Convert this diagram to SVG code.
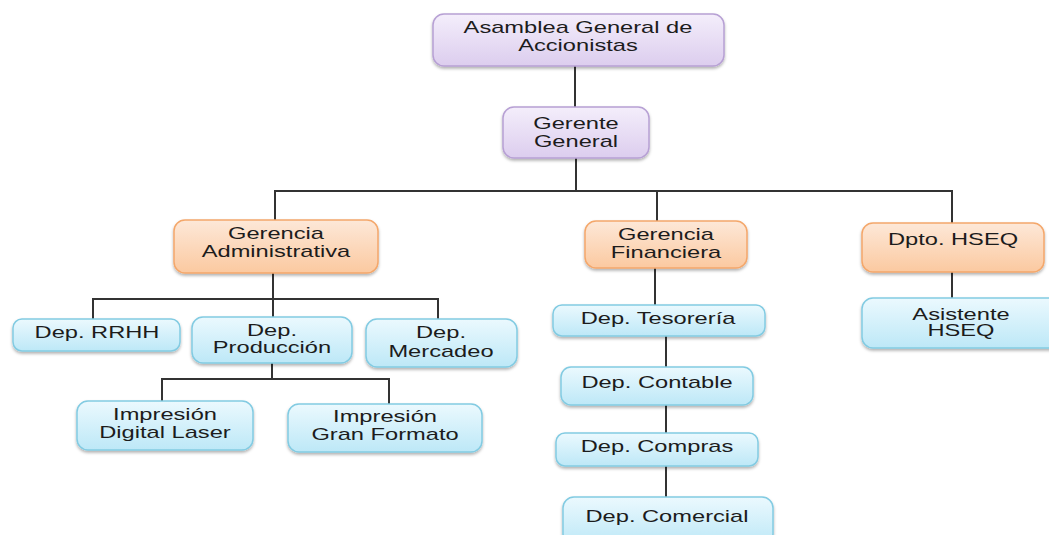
<svg xmlns="http://www.w3.org/2000/svg" width="1049" height="535" viewBox="0 0 1049 535">
  <defs>
    <linearGradient id="gPurple" x1="0" y1="0" x2="0" y2="1">
      <stop offset="0" stop-color="#f4eefb"/>
      <stop offset="1" stop-color="#dccdee"/>
    </linearGradient>
    <linearGradient id="gOrange" x1="0" y1="0" x2="0" y2="1">
      <stop offset="0" stop-color="#fde8d8"/>
      <stop offset="1" stop-color="#fbc9a0"/>
    </linearGradient>
    <linearGradient id="gBlue" x1="0" y1="0" x2="0" y2="1">
      <stop offset="0" stop-color="#ebf9fe"/>
      <stop offset="1" stop-color="#bde8f7"/>
    </linearGradient>
    <filter id="shadow" x="-10%" y="-20%" width="120%" height="160%">
      <feDropShadow dx="0" dy="2" stdDeviation="1.5" flood-color="#000" flood-opacity="0.3"/>
    </filter>
  </defs>
  <style>
    .box { stroke-width: 1.5; filter: url(#shadow); }
    .purple { fill: url(#gPurple); stroke: #b7a0d4; }
    .orange { fill: url(#gOrange); stroke: #f4a76b; }
    .blue { fill: url(#gBlue); stroke: #82cbe2; }
    .lbl { font-family: "Liberation Sans", Arial, sans-serif; font-size: 16px; fill: #1c1c1c; text-anchor: middle; }
    .wire { stroke: #333; stroke-width: 2; fill: none; }
  </style>
  <rect width="1049" height="535" fill="#fff"/>

  <g id="connectors">
    <path class="wire" d="M575 66V107"/>
    <path class="wire" d="M576 158V191"/>
    <path class="wire" d="M275 220V191H952V223"/>
    <path class="wire" d="M657 191V221"/>
    <path class="wire" d="M273 273V299"/>
    <path class="wire" d="M93 319V299H438V319"/>
    <path class="wire" d="M273 299V317"/>
    <path class="wire" d="M272 363V379"/>
    <path class="wire" d="M162 401V379H389V404"/>
    <path class="wire" d="M655 268V305"/>
    <path class="wire" d="M666 336V367"/>
    <path class="wire" d="M666 405V433"/>
    <path class="wire" d="M666 466V497"/>
    <path class="wire" d="M952 272V298"/>
  </g>

  <!-- text is widened horizontally with scale(1.48,1) -->
  <g id="asamblea">
    <rect class="box purple" x="433" y="14" width="291" height="52" rx="11"/>
    <text class="lbl" transform="translate(578,33) scale(1.48,1)"><tspan x="0">Asamblea General de</tspan><tspan x="0" dy="18">Accionistas</tspan></text>
  </g>
  <g id="gerente-general">
    <rect class="box purple" x="503" y="107" width="146" height="51" rx="11"/>
    <text class="lbl" transform="translate(576,129) scale(1.48,1)"><tspan x="0">Gerente</tspan><tspan x="0" dy="18">General</tspan></text>
  </g>

  <g id="gerencia-administrativa">
    <rect class="box orange" x="174" y="220" width="204" height="53" rx="11"/>
    <text class="lbl" transform="translate(276,239) scale(1.48,1)"><tspan x="0">Gerencia</tspan><tspan x="0" dy="18">Administrativa</tspan></text>
  </g>
  <g id="gerencia-financiera">
    <rect class="box orange" x="585" y="221" width="162" height="47" rx="11"/>
    <text class="lbl" transform="translate(666,240) scale(1.48,1)"><tspan x="0">Gerencia</tspan><tspan x="0" dy="18">Financiera</tspan></text>
  </g>
  <g id="dpto-hseq">
    <rect class="box orange" x="862" y="223" width="182" height="49" rx="11"/>
    <text class="lbl" transform="translate(953,245) scale(1.48,1)">Dpto. HSEQ</text>
  </g>
  <g id="asistente-hseq">
    <rect class="box blue" x="862" y="298" width="200" height="50" rx="11"/>
    <text class="lbl" transform="translate(961,320) scale(1.48,1)"><tspan x="0">Asistente</tspan><tspan x="0" dy="16">HSEQ</tspan></text>
  </g>

  <g id="dep-rrhh">
    <rect class="box blue" x="13" y="319" width="167" height="32" rx="9"/>
    <text class="lbl" transform="translate(97,338) scale(1.48,1)">Dep. RRHH</text>
  </g>
  <g id="dep-produccion">
    <rect class="box blue" x="192" y="317" width="160" height="46" rx="11"/>
    <text class="lbl" transform="translate(272,336) scale(1.48,1)"><tspan x="0">Dep.</tspan><tspan x="0" dy="17">Producción</tspan></text>
  </g>
  <g id="dep-mercadeo">
    <rect class="box blue" x="366" y="319" width="151" height="48" rx="11"/>
    <text class="lbl" transform="translate(441,338) scale(1.48,1)"><tspan x="0">Dep.</tspan><tspan x="0" dy="19">Mercadeo</tspan></text>
  </g>
  <g id="impresion-digital">
    <rect class="box blue" x="77" y="401" width="176" height="49" rx="11"/>
    <text class="lbl" transform="translate(165,420) scale(1.48,1)"><tspan x="0">Impresión</tspan><tspan x="0" dy="18">Digital Laser</tspan></text>
  </g>
  <g id="impresion-gran-formato">
    <rect class="box blue" x="288" y="404" width="194" height="48" rx="11"/>
    <text class="lbl" transform="translate(385,422) scale(1.48,1)"><tspan x="0">Impresión</tspan><tspan x="0" dy="18">Gran Formato</tspan></text>
  </g>

  <g id="dep-tesoreria">
    <rect class="box blue" x="553" y="305" width="212" height="31" rx="9"/>
    <text class="lbl" transform="translate(658,324) scale(1.48,1)">Dep. Tesorería</text>
  </g>
  <g id="dep-contable">
    <rect class="box blue" x="561" y="367" width="192" height="38" rx="10"/>
    <text class="lbl" transform="translate(657,388) scale(1.48,1)">Dep. Contable</text>
  </g>
  <g id="dep-compras">
    <rect class="box blue" x="556" y="433" width="202" height="33" rx="9"/>
    <text class="lbl" transform="translate(657,452) scale(1.48,1)">Dep. Compras</text>
  </g>
  <g id="dep-comercial">
    <rect class="box blue" x="563" y="497" width="210" height="48" rx="11"/>
    <text class="lbl" transform="translate(667,522) scale(1.48,1)">Dep. Comercial</text>
  </g>
</svg>
